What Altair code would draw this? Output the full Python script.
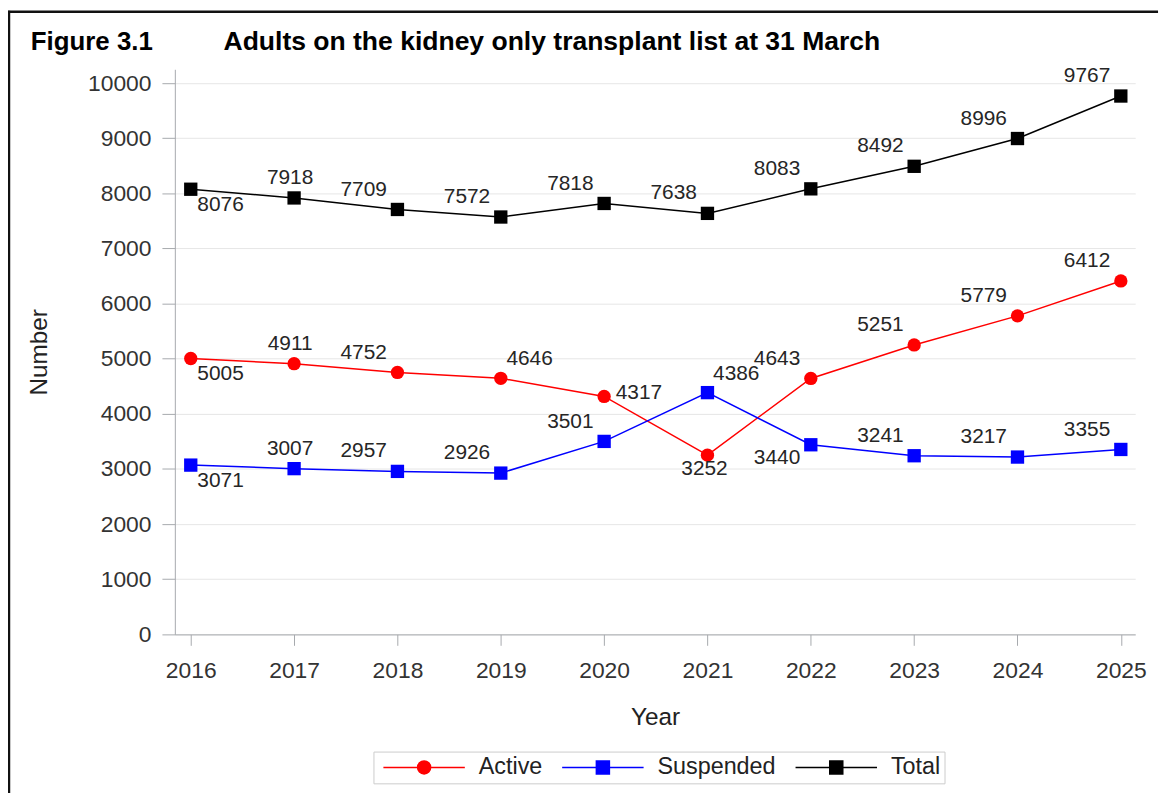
import altair as alt
import pandas as pd

# ---- data ----
years = [2016, 2017, 2018, 2019, 2020, 2021, 2022, 2023, 2024, 2025]
series_names = ["Active", "Suspended", "Total"]
active = [5005, 4911, 4752, 4646, 4317, 3252, 4643, 5251, 5779, 6412]
suspended = [3071, 3007, 2957, 2926, 3501, 4386, 3440, 3241, 3217, 3355]
total = [8076, 7918, 7709, 7572, 7818, 7638, 8083, 8492, 8996, 9767]
series_colors = ["#ff0000", "#0000ff", "#000000"]
series_markers = {"Active": "circle", "Suspended": "square", "Total": "square"}

# label placement (style only): where each value label sits relative to its marker
label_placement = {
    "Active":    ["br", "a", "al", "ar", "r", "b", "al", "al", "al", "al"],
    "Suspended": ["br", "a", "al", "al", "al", "ar", "l", "al", "al", "al"],
    "Total":     ["br", "a", "al", "al", "al", "al", "al", "al", "al", "al"],
}
placement_offsets = {
    "br": (30, 16), "a": (-4, -20), "al": (-34, -20), "ar": (29, -19),
    "r": (35, -3), "b": (-3, 14), "l": (-34, 13),
}

values_by_series = {"Active": active, "Suspended": suspended, "Total": total}
rows = []
for s in series_names:
    for i, y in enumerate(years):
        rows.append({"year": y, "value": values_by_series[s][i], "series": s,
                     "marker": series_markers[s], "pos": label_placement[s][i]})
df = pd.DataFrame(rows)

FONT = "Liberation Sans"
W, H = 967, 569

circle_path = "M-1,0H1M-0.16,0A0.16,0.16,0,1,1,0.16,0A0.16,0.16,0,1,1,-0.16,0Z"
square_path = "M-1,0H1M-0.16,-0.16H0.16V0.16H-0.16Z"
shape_expr = f"datum.value === 'Active' ? '{circle_path}' : '{square_path}'"
color_expr = "scale('color', datum.value)"

legend = alt.Legend(
    title=None, orient="none", legendX=200, legendY=687, direction="horizontal",
    symbolSize=6724, symbolStrokeWidth=1.5, clipHeight=24, padding=4,
    labelFontSize=23.5, labelFont=FONT, labelColor="#222222", labelOffset=13,
    columnPadding=14, strokeColor="#cccccc", fillColor="white", symbolOffset=5,
    symbolType=alt.ExprRef(expr=shape_expr),
    symbolFillColor=alt.ExprRef(expr=color_expr),
    symbolStrokeColor=alt.ExprRef(expr=color_expr),
    symbolOpacity=1,
)

color_scale = alt.Scale(domain=series_names, range=series_colors)

x_enc = alt.X("year:Q",
              scale=alt.Scale(domain=[2015.846, 2025.139], nice=False, zero=False),
              axis=alt.Axis(values=years, format="d", title="Year", grid=False,
                            tickSize=11, labelPadding=14, labelFlush=False,
                            titleY=84, titleBaseline="middle"))
y_enc = alt.Y("value:Q", scale=alt.Scale(domain=[0, 10252], nice=False),
              axis=alt.Axis(values=list(range(0, 10001, 1000)), format="d", title="Number",
                            tickSize=13, labelPadding=11, titleX=-136, titleY=H / 2,
                            titleAlign="center", titleBaseline="middle"))

base = alt.Chart(df)

lines = base.mark_line(strokeWidth=1.5).encode(
    x=x_enc, y=y_enc, detail="series:N",
    color=alt.Color("series:N", scale=color_scale, legend=legend))
points = base.mark_point(filled=True, size=180, opacity=1).encode(
    x=x_enc, y=y_enc,
    color=alt.Color("series:N", scale=color_scale, legend=legend),
    shape=alt.Shape("marker:N", scale=None))

label_layers = []
for code, (dx, dy) in placement_offsets.items():
    label_layers.append(
        base.transform_filter(alt.datum.pos == code)
        .mark_text(dx=dx, dy=dy, align="center", baseline="middle", font=FONT,
                   fontSize=21, color="#262626")
        .encode(x="year:Q", y="value:Q", text=alt.Text("value:Q", format="d"))
    )

one = alt.Data(values=[{"k": 1}])
title_a = alt.Chart(one).mark_text(text="Figure 3.1", align="left", baseline="alphabetic",
                                   font=FONT, fontSize=26, fontWeight="bold",
                                   color="#000000").encode(x=alt.value(-145), y=alt.value(-19))
title_b = alt.Chart(one).mark_text(text="Adults on the kidney only transplant list at 31 March",
                                   align="left", baseline="alphabetic", font=FONT,
                                   fontSize=26.7, fontWeight="bold",
                                   color="#000000").encode(x=alt.value(49), y=alt.value(-19))
frame_left = alt.Chart(one).mark_rule(color="#111111", strokeWidth=2.5).encode(
    x=alt.value(-167), y=alt.value(-59), y2=alt.value(730))
frame_top = alt.Chart(one).mark_rule(color="#111111", strokeWidth=2.5).encode(
    x=alt.value(-168), x2=alt.value(990), y=alt.value(-58))

chart = alt.layer(lines, points, *label_layers, title_a, title_b, frame_left, frame_top).properties(
    width=W, height=H,
    background="white",
    autosize=alt.AutoSizeParams(type="none"),
    padding={"left": 168, "top": 59, "right": 28, "bottom": 157},
).configure_view(strokeWidth=0).configure_axis(
    labelFont=FONT, labelFontSize=23, labelColor="#333333",
    titleFont=FONT, titleFontSize=24.5, titleFontWeight="normal", titleColor="#222222",
    domainColor="#a6a9ad", tickColor="#a6a9ad", gridColor="#e6e6e6", gridWidth=1,
)

chart.save("out.html", embed_options={"renderer": "svg", "actions": False})
